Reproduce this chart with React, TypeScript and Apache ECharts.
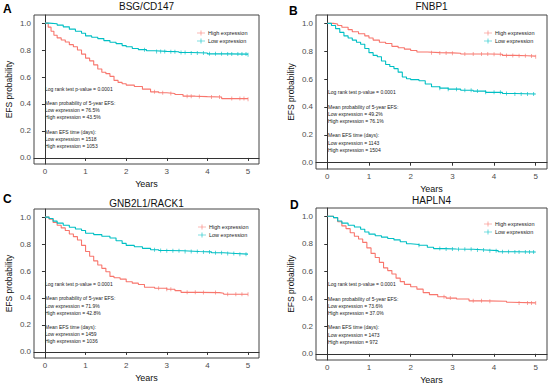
import React, { useEffect, useRef } from "react";
import * as echarts from "echarts";

const RED = "#F8766D";
const CYAN = "#00BFC4";
const FONT = "Liberation Sans, Arial, sans-serif";

const panelTitles = ["BSG/CD147", "FNBP1", "GNB2L1/RACK1", "HAPLN4"];
const panelLetters = ["A", "B", "C", "D"];
const xTicks = [0, 1, 2, 3, 4, 5];
const yTicks = [0, 0.2, 0.4, 0.6, 0.8, 1.0];

// Panel A
const aHighT = [0, 0.08, 0.15, 0.22, 0.3, 0.4, 0.5, 0.6, 0.7, 0.8, 0.9, 1.0, 1.1, 1.2, 1.3, 1.4, 1.5, 1.6, 1.7, 1.8, 1.9, 2.0, 2.2, 2.4, 2.6, 2.8, 3.0, 3.2, 3.4, 3.7, 4.0, 4.35, 5.0];
const aHighS = [1.0, 0.97, 0.94, 0.91, 0.89, 0.875, 0.86, 0.84, 0.825, 0.8, 0.77, 0.74, 0.72, 0.69, 0.66, 0.635, 0.625, 0.605, 0.575, 0.56, 0.55, 0.54, 0.53, 0.51, 0.49, 0.483, 0.478, 0.47, 0.458, 0.455, 0.452, 0.44, 0.435];
const aLowT = [0, 0.1, 0.3, 0.45, 0.6, 0.75, 0.9, 1.0, 1.15, 1.3, 1.45, 1.6, 1.75, 1.9, 2.0, 2.15, 2.3, 2.5, 2.7, 3.0, 3.3, 3.6, 4.0, 4.5, 5.0];
const aLowS = [1.0, 0.995, 0.985, 0.972, 0.955, 0.94, 0.925, 0.905, 0.895, 0.885, 0.87, 0.858, 0.848, 0.833, 0.825, 0.812, 0.803, 0.795, 0.79, 0.788, 0.782, 0.778, 0.772, 0.77, 0.765];
const aHighCens = [2.7, 2.9, 3.1, 3.5, 3.6, 3.8, 4.1, 4.3, 4.6, 4.8, 4.9, 5.0];
const aLowCens = [2.45, 2.75, 2.85, 2.95, 3.1, 3.2, 3.35, 3.45, 3.6, 3.75, 3.9, 4.05, 4.2, 4.35, 4.5, 4.6, 4.75, 4.85, 4.95, 5.0];

// Panel B
const bHighT = [0, 0.15, 0.25, 0.35, 0.5, 0.6, 0.75, 0.9, 1.0, 1.1, 1.25, 1.4, 1.55, 1.7, 1.85, 2.0, 2.15, 2.4, 2.7, 3.0, 3.2, 3.5, 3.9, 4.2, 4.5, 4.8, 5.0];
const bHighS = [1.0, 0.995, 0.985, 0.972, 0.955, 0.94, 0.925, 0.91, 0.895, 0.88, 0.865, 0.855, 0.835, 0.825, 0.815, 0.805, 0.795, 0.79, 0.788, 0.786, 0.78, 0.78, 0.778, 0.77, 0.768, 0.765, 0.761];
const bLowT = [0, 0.1, 0.2, 0.3, 0.4, 0.5, 0.6, 0.7, 0.8, 0.9, 1.0, 1.1, 1.2, 1.3, 1.4, 1.5, 1.6, 1.7, 1.8, 1.9, 2.0, 2.2, 2.35, 2.5, 2.7, 2.9, 3.2, 3.5, 3.8, 4.2, 4.5, 5.0];
const bLowS = [1.0, 0.985, 0.962, 0.935, 0.91, 0.895, 0.88, 0.865, 0.85, 0.82, 0.79, 0.77, 0.76, 0.73, 0.705, 0.69, 0.675, 0.65, 0.615, 0.603, 0.596, 0.588, 0.565, 0.545, 0.535, 0.528, 0.52, 0.514, 0.505, 0.497, 0.493, 0.492];
const bHighCens = [2.5, 2.7, 2.85, 3.0, 3.3, 3.5, 3.7, 3.85, 4.0, 4.15, 4.3, 4.45, 4.6, 4.75, 4.9, 5.0];
const bLowCens = [2.7, 2.9, 3.1, 3.3, 3.45, 3.6, 3.8, 4.0, 4.15, 4.3, 4.5, 4.65, 4.8, 4.95];

// Panel C
const cHighT = [0, 0.1, 0.2, 0.3, 0.4, 0.5, 0.6, 0.7, 0.8, 0.9, 1.0, 1.1, 1.2, 1.3, 1.4, 1.5, 1.6, 1.7, 1.85, 2.0, 2.15, 2.3, 2.45, 2.7, 3.0, 3.2, 3.35, 3.8, 4.3, 4.4, 5.0];
const cHighS = [1.0, 0.985, 0.96, 0.94, 0.92, 0.9, 0.875, 0.855, 0.83, 0.79, 0.745, 0.71, 0.675, 0.645, 0.62, 0.595, 0.56, 0.55, 0.54, 0.52, 0.51, 0.5, 0.48, 0.472, 0.465, 0.455, 0.442, 0.44, 0.435, 0.428, 0.428];
const cLowT = [0, 0.1, 0.2, 0.3, 0.45, 0.6, 0.75, 0.9, 1.0, 1.2, 1.4, 1.6, 1.75, 1.9, 2.0, 2.2, 2.4, 2.6, 2.8, 3.0, 3.4, 3.8, 4.1, 4.4, 4.7, 5.0];
const cLowS = [1.0, 0.99, 0.97, 0.955, 0.94, 0.925, 0.912, 0.9, 0.88, 0.87, 0.858, 0.845, 0.825, 0.805, 0.79, 0.78, 0.768, 0.758, 0.752, 0.75, 0.745, 0.742, 0.735, 0.73, 0.725, 0.72];
const cHighCens = [2.8, 3.0, 3.1, 3.5, 3.7, 3.9, 4.2, 4.5, 4.7, 4.85, 5.0];
const cLowCens = [2.7, 2.85, 3.0, 3.15, 3.3, 3.45, 3.6, 3.75, 3.9, 4.05, 4.2, 4.35, 4.5, 4.65, 4.8, 4.95];

// Panel D
const dHighT = [0, 0.15, 0.25, 0.35, 0.45, 0.55, 0.65, 0.75, 0.85, 0.95, 1.05, 1.15, 1.25, 1.35, 1.45, 1.55, 1.65, 1.75, 1.85, 2.0, 2.15, 2.3, 2.45, 2.65, 2.85, 3.1, 3.4, 3.8, 4.3, 4.4, 5.0];
const dHighS = [1.0, 0.99, 0.96, 0.93, 0.91, 0.88, 0.855, 0.835, 0.81, 0.77, 0.73, 0.7, 0.665, 0.625, 0.605, 0.58, 0.55, 0.525, 0.505, 0.488, 0.47, 0.445, 0.43, 0.415, 0.405, 0.398, 0.385, 0.382, 0.375, 0.37, 0.37];
const dLowT = [0, 0.15, 0.25, 0.35, 0.5, 0.65, 0.8, 0.9, 1.0, 1.15, 1.3, 1.45, 1.6, 1.75, 1.9, 2.0, 2.2, 2.4, 2.55, 2.8, 3.1, 3.5, 3.8, 4.1, 4.5, 5.0];
const dLowS = [1.0, 0.99, 0.965, 0.95, 0.935, 0.922, 0.905, 0.885, 0.87, 0.858, 0.848, 0.838, 0.828, 0.815, 0.8, 0.795, 0.789, 0.775, 0.765, 0.762, 0.76, 0.755, 0.75, 0.742, 0.74, 0.736];
const dHighCens = [2.8, 2.95, 3.5, 3.7, 3.9, 4.6, 4.8, 4.9, 5.0];
const dLowCens = [2.2, 2.7, 2.85, 3.0, 3.15, 3.3, 3.45, 3.6, 3.75, 3.9, 4.05, 4.2, 4.35, 4.5, 4.6, 4.75, 4.85, 4.95];

const statLines = [
  ["Log rank test p-value = 0.0001", "Mean probability of 5-year EFS:", "Low expression = 76.5%", "High expression = 43.5%", "Mean EFS time (days):", "Low expression = 1518", "High expression = 1053"],
  ["Log rank test p-value = 0.0001", "Mean probability of 5-year EFS:", "Low expression = 49.2%", "High expression = 76.1%", "Mean EFS time (days):", "Low expression = 1143", "High expression = 1504"],
  ["Log rank test p-value = 0.0001", "Mean probability of 5-year EFS:", "Low expression = 71.9%", "High expression = 42.8%", "Mean EFS time (days):", "Low expression = 1459", "High expression = 1036"],
  ["Log rank test p-value = 0.0001", "Mean probability of 5-year EFS:", "Low expression = 73.6%", "High expression = 37.0%", "Mean EFS time (days):", "Low expression = 1473", "High expression = 972"],
];

const curves = [
  { high: [aHighT, aHighS], low: [aLowT, aLowS], hc: aHighCens, lc: aLowCens },
  { high: [bHighT, bHighS], low: [bLowT, bLowS], hc: bHighCens, lc: bLowCens },
  { high: [cHighT, cHighS], low: [cLowT, cLowS], hc: cHighCens, lc: cLowCens },
  { high: [dHighT, dHighS], low: [dLowT, dLowS], hc: dHighCens, lc: dLowCens },
];

// layout
const grids = [
  { left: 34, top: 15, width: 225, height: 149 },
  { left: 316, top: 15, width: 231, height: 154 },
  { left: 34, top: 209, width: 225, height: 149 },
  { left: 316, top: 208, width: 231, height: 154 },
];
const titleTops = [1, 1, 198, 195];
const letterPos = [
  [3, 3],
  [289, 5],
  [3, 193],
  [290, 199],
];
const statPos = [
  [45, 89, [0, 14, 21, 28, 43, 50, 57]],
  [328, 92, [0, 15, 22, 29, 43, 51, 58]],
  [45, 284, [0, 14, 22, 29, 43, 50, 57]],
  [328, 284, [0, 15, 22, 29, 43, 51, 58]],
];
const legendPos = [
  [197, 30],
  [484, 30],
  [198, 224],
  [484, 221],
];

function stepLookup(t: number[], s: number[], x: number) {
  let v = s[0];
  for (let i = 0; i < t.length; i++) if (t[i] <= x) v = s[i];
  return v;
}

const legendIcon = "path://M0,2.2L8,2.2L8,2.8L0,2.8Z M3.7,0L4.3,0L4.3,5L3.7,5Z";
const censorSymbol = "path://M0,0L1,0L1,10L0,10Z";

export default function App() {
  const ref = useRef<HTMLDivElement>(null);
  useEffect(() => {
    if (!ref.current) return;
    const chart = echarts.init(ref.current, undefined, { renderer: "svg" });
    const xAxis: any[] = [];
    const yAxis: any[] = [];
    const series: any[] = [];
    const title: any[] = [];
    const legend: any[] = [];
    const graphic: any[] = [];
    grids.forEach((g, i) => {
      xAxis.push({
        type: "value",
        gridIndex: i,
        min: -0.27,
        max: 5.27,
        name: "Years",
        nameLocation: "middle",
        nameGap: 15,
        nameTextStyle: { fontSize: 9, color: "#111", fontFamily: FONT },
        axisLine: { show: true, lineStyle: { color: "#333", width: 1 } },
        axisTick: { show: true, length: 3, customValues: xTicks, lineStyle: { color: "#333" } },
        axisLabel: { customValues: xTicks, fontSize: 8, color: "#4d4d4d", margin: 3, fontFamily: FONT },
        splitLine: { show: false },
      });
      yAxis.push({
        type: "value",
        gridIndex: i,
        min: -0.045,
        max: 1.06,
        name: "EFS probability",
        nameLocation: "middle",
        nameGap: 21,
        nameTextStyle: { fontSize: 8.5, color: "#111", fontFamily: FONT },
        axisLine: { show: true, lineStyle: { color: "#333", width: 1 } },
        axisTick: { show: true, length: 3, customValues: yTicks, lineStyle: { color: "#333" } },
        axisLabel: {
          customValues: yTicks,
          fontSize: 8,
          color: "#4d4d4d",
          margin: 3,
          fontFamily: FONT,
          formatter: (v: number) => v.toFixed(1),
        },
        splitLine: { show: false },
      });
      title.push({
        text: panelTitles[i],
        left: g.left + g.width / 2,
        top: titleTops[i],
        padding: 0,
        textAlign: "center",
        textStyle: { fontSize: 10, fontWeight: "normal", color: "#111", fontFamily: FONT },
      });
      legend.push({
        data: [
          { name: "High expression", icon: legendIcon, itemStyle: { color: RED } },
          { name: "Low expression", icon: legendIcon, itemStyle: { color: CYAN } },
        ],
        orient: "vertical",
        left: legendPos[i][0],
        top: legendPos[i][1],
        itemWidth: 8,
        itemHeight: 5,
        itemGap: 2,
        padding: 0,
        selectedMode: false,
        textStyle: { fontSize: 5.5, color: "#222", fontFamily: FONT, padding: [0, 0, 0, -2] },
      });
      graphic.push({
        type: "text",
        left: letterPos[i][0],
        top: letterPos[i][1],
        style: { text: panelLetters[i], font: `bold 12px ${FONT}`, fill: "#000" },
      });
      const sp = statPos[i] as any;
      statLines[i].forEach((line, k) => {
        graphic.push({
          type: "text",
          x: sp[0],
          y: sp[1] + sp[2][k],
          style: { text: line, font: `5px ${FONT}`, fill: "#222", textVerticalAlign: "middle" },
        });
      });
      const c = curves[i];
      const mk = (name: string, color: string, ts: number[], ss: number[], cens: number[]) => {
        series.push({
          type: "line",
          name,
          xAxisIndex: i,
          yAxisIndex: i,
          step: "end",
          showSymbol: false,
          symbol: "none",
          lineStyle: { color, width: 1.1 },
          itemStyle: { color },
          data: ts.map((t, k) => [t, ss[k]]),
        });
        series.push({
          type: "scatter",
          name,
          xAxisIndex: i,
          yAxisIndex: i,
          symbol: censorSymbol,
          symbolSize: [0.8, 4],
          itemStyle: { color },
          data: cens.map((t) => [t, stepLookup(ts, ss, t)]),
        });
      };
      mk("High expression", RED, c.high[0], c.high[1], c.hc);
      mk("Low expression", CYAN, c.low[0], c.low[1], c.lc);
    });
    chart.setOption({
      animation: false,
      backgroundColor: "#fff",
      grid: grids.map((g) => ({ ...g, show: true, borderColor: "#444", borderWidth: 1, backgroundColor: "transparent" })),
      xAxis,
      yAxis,
      title,
      legend,
      graphic,
      series,
    });
    return () => chart.dispose();
  }, []);
  return <div ref={ref} style={{ width: 550, height: 385, position: "absolute", left: 0, top: 0 }} />;
}
